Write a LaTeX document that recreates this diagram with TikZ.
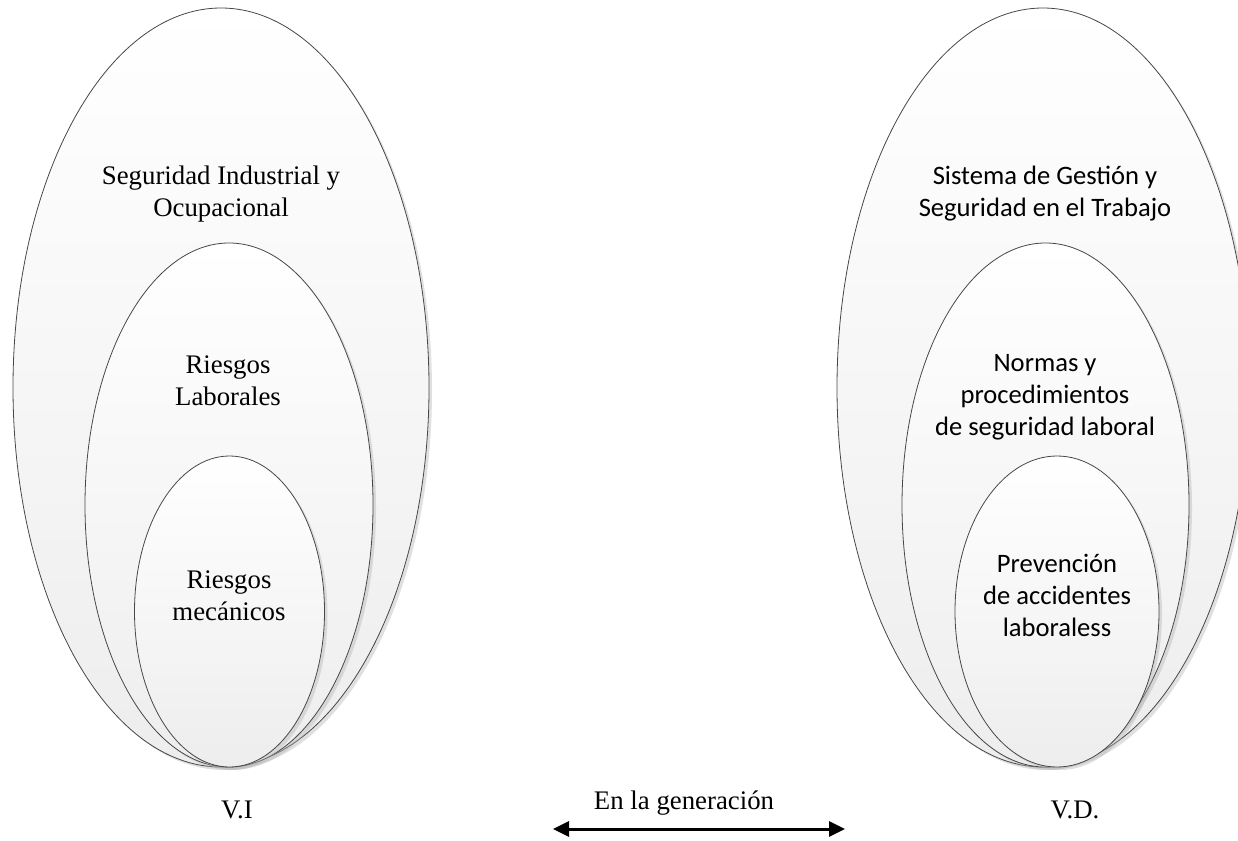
\documentclass[tikz,border=0pt]{standalone}
\usepackage{fontspec}
\setmainfont{Liberation Serif}
\newfontfamily\calibrifont{Carlito}
\usetikzlibrary{shapes.geometric,shadows,arrows.meta}

\tikzset{
  oval/.style={ellipse, draw=black!72, line width=0.8pt, inner sep=0pt,
    top color=white, bottom color=black!7,
    drop shadow={shadow xshift=3pt, shadow yshift=-3pt, fill=black!30, opacity=0.4}},
  serif label/.style={align=center, font=\fontsize{26.8}{32}\selectfont},
  sans label/.style={align=center, font=\calibrifont\fontsize{26.6}{32}\selectfont},
  link/.style={line width=3pt, {Triangle[length=16pt,width=15pt]}-{Triangle[length=16pt,width=15pt]}}
}

\begin{document}
\begin{tikzpicture}[x=1pt,y=-1pt]
  \useasboundingbox (0,0) rectangle (1238,840);
  \clip (0,0) rectangle (1238,840);

  % Independent variable: nested ovals
  \node[oval, minimum width=416pt, minimum height=759pt] (vi1) at (221,387.5) {};
  \node[oval, minimum width=288pt, minimum height=524pt] (vi2) at (229,505) {};
  \node[oval, minimum width=190pt, minimum height=311pt] (vi3) at (229.5,611.5) {};

  \node[serif label] (t1) at (221,194) {Seguridad Industrial y\\Ocupacional};
  \node[serif label] (t2) at (228,381) {Riesgos\\Laborales};
  \node[serif label] (t3) at (229,596) {Riesgos\\mecánicos};

  % Dependent variable: nested ovals
  \node[oval, minimum width=412pt, minimum height=759pt] (vd1) at (1043,387.5) {};
  \node[oval, minimum width=287pt, minimum height=524pt] (vd2) at (1045.5,505) {};
  \node[oval, minimum width=204pt, minimum height=311pt] (vd3) at (1057,611.5) {};

  \node[sans label] (s1) at (1045,194) {Sistema de Gestión y\\Seguridad en el Trabajo};
  \node[sans label] (s2) at (1045,397) {Normas y\\procedimientos\\de seguridad laboral};
  \node[sans label] (s3) at (1057,595) {Prevención\\de accidentes\\laboraless};

  % Captions and the relation between both variables
  \node[serif label] (vi) at (237,810) {V.I};
  \node[serif label] (vd) at (1075,810) {V.D.};
  \node[serif label] (rel) at (684,803) {En la generación};

  \coordinate (ra) at (553,829);
  \coordinate (rb) at (845,829);
  \draw[link] (ra) -- (rb);
\end{tikzpicture}
\end{document}
